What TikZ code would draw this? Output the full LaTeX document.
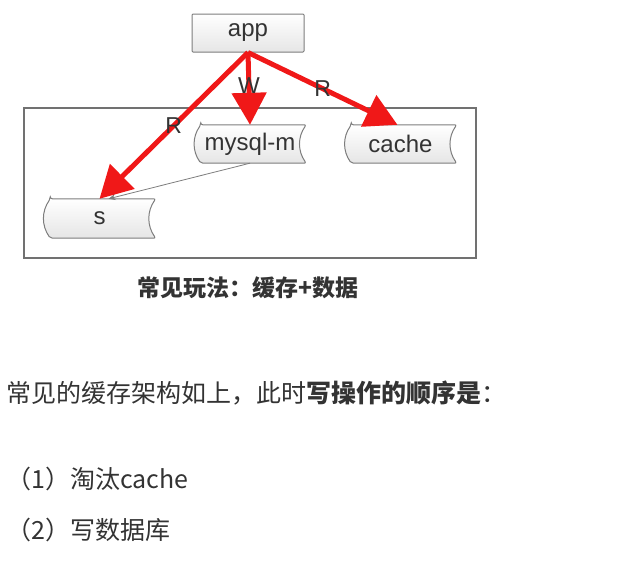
\documentclass[tikz,border=0pt]{standalone}
\usepackage{fontspec}
\setmainfont{Liberation Sans}
\newfontfamily\cjk{Noto Sans CJK SC}
\usetikzlibrary{arrows.meta, backgrounds}

\definecolor{redline}{RGB}{240,24,24}
\definecolor{textgray}{RGB}{51,51,51}
\definecolor{edgegray}{RGB}{125,125,125}

\tikzset{
  box/.style = {minimum width=112pt, minimum height=38pt, inner sep=0pt, text=textgray, font=\fontsize{24}{26}\selectfont},
  storefill/.style = {draw=edgegray, line width=1pt, top color=white, bottom color=gray!20, rounded corners=2pt},
  redarrow/.style = {draw=redline, line width=5pt, -{Triangle[length=32pt, width=34pt]}},
  grayarrow/.style = {draw=edgegray, line width=0.8pt, -{Stealth[length=7pt, width=6pt]}},
  lbl/.style = {text=textgray, font=\fontsize{23}{26}\selectfont, inner sep=0pt},
  body/.style = {anchor=west, inner sep=0pt, text=textgray, font=\cjk\fontsize{25}{28}\selectfont}
}

% stored-data outline round a named node
\newcommand{\storeshape}[1]{%
  \path[storefill] ([xshift=7pt]#1.north west) -- (#1.north east)
    to[bend right=35] (#1.south east) -- ([xshift=7pt]#1.south west)
    to[bend left=35] ([xshift=7pt]#1.north west) -- cycle;}

\begin{document}
\begin{tikzpicture}[x=1pt, y=-1pt]
  \useasboundingbox (0,0) rectangle (630,576);

  % frame round the storage side
  \node[draw=edgegray!90!black, line width=1.2pt, minimum width=452pt, minimum height=150pt, inner sep=0pt] (dbbox) at (250,183) {};

  \node[box, draw=edgegray, line width=1pt, top color=white, bottom color=gray!20, rounded corners=1pt] (app) at (248,33) {app};
  \node[box] (mysql) at (250,144) {mysql-m};
  \node[box] (cache) at (400.5,144) {cache};
  \node[box, minimum height=39pt] (s) at (99.5,218.5) {s};

  \begin{pgfonlayer}{background}
    \storeshape{mysql}
    \storeshape{cache}
    \storeshape{s}
  \end{pgfonlayer}

  \draw[grayarrow] (mysql.south) -- ([xshift=9pt]s.north);
  \draw[redarrow] (app.south) -- node[lbl, pos=0.5] {R} (s.north);
  \draw[redarrow] (app.south) -- node[lbl, pos=0.46] {W} (mysql.north);
  \draw[redarrow] (app.south) -- node[lbl, pos=0.5] {R} ([xshift=-3pt]cache.north);

  \node[font=\cjk\bfseries\fontsize{23}{26}\selectfont, text=textgray, inner sep=0pt] (caption) at (248,288) {常见玩法：缓存+数据};

  \node[body] (line1) at (6,393) {常见的缓存架构如上，此时{\bfseries 写操作的顺序是}：};
  \node[body] (line2) at (6,479) {（1）淘汰cache};
  \node[body] (line3) at (6,530) {（2）写数据库};
\end{tikzpicture}
\end{document}
